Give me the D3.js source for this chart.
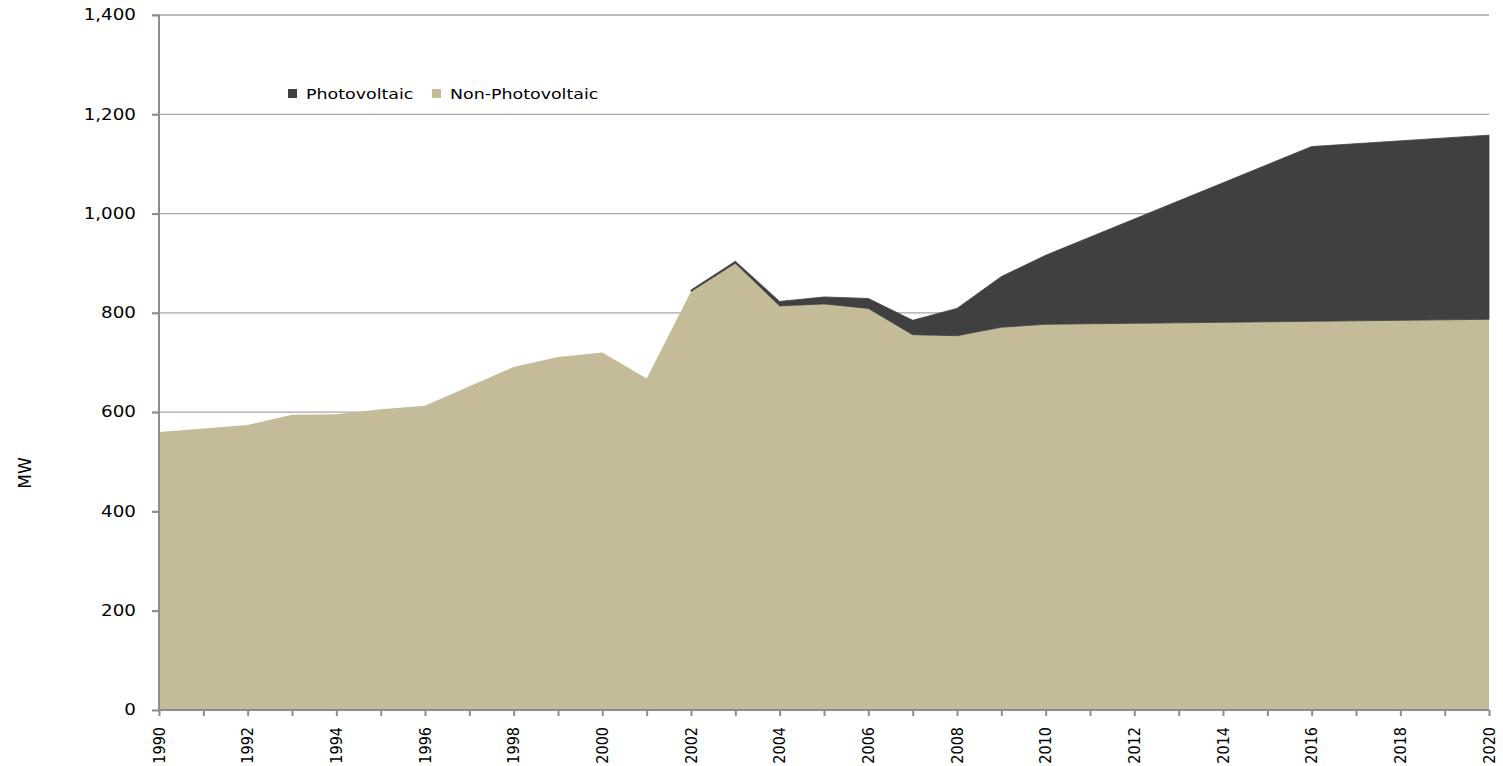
<!DOCTYPE html>
<html>
<meta charset="utf-8">
<style>
body { margin: 0; background: #fff; }
.grid line { stroke: #a6a6a6; stroke-width: 1.3; }
.axis path, .axis line { stroke: #8c8c8c; stroke-width: 2; fill: none; }
.ylab { font-family: "DejaVu Sans", Verdana, sans-serif; font-size: 15px; fill: #000; }
.xlab { font-family: "DejaVu Sans Condensed", "DejaVu Sans", sans-serif; font-stretch: condensed; font-size: 16px; fill: #000; }
.legend text { font-family: "DejaVu Sans", Verdana, sans-serif; font-size: 13.5px; fill: #000; }
</style>
<body>
<svg width="1503" height="766"></svg>
<script src="https://cdn.jsdelivr.net/npm/d3@7"></script>
<script>

var years    = [1990, 1992, 1993, 1994, 1995, 1996, 1998, 1999, 2000, 2001, 2002, 2003, 2004, 2005, 2006, 2007, 2008, 2009, 2010, 2016, 2020];
var nonPV    = [560, 574, 595, 596, 606, 613, 691, 711, 720, 668, 843, 900, 814, 818, 809, 756, 754, 771, 777, 783, 787];
var pv       = [0, 0, 0, 0, 0, 0, 0, 0, 0, 0, 3, 4, 9, 14, 20, 29, 55, 102, 139, 352, 371];
var yTicks   = [0, 200, 400, 600, 800, 1000, 1200, 1400];
var seriesNames = ["Photovoltaic", "Non-Photovoltaic"];
var colors   = {"Photovoltaic": "#404040", "Non-Photovoltaic": "#c4bc98"};

var svg = d3.select("svg");

var x = d3.scaleLinear().domain([1990, 2020]).range([159, 1489]);
var y = d3.scaleLinear().domain([0, 1400]).range([710, 15]);

// gridlines
svg.append("g").attr("class", "grid")
  .selectAll("line")
  .data(yTicks.filter(function(d) { return d > 0; }))
  .enter().append("line")
    .attr("x1", 152).attr("x2", 1489)
    .attr("y1", function(d) { return y(d); })
    .attr("y2", function(d) { return y(d); });

// stacked areas
var rows = years.map(function(yr, i) {
  return {year: yr, "Non-Photovoltaic": nonPV[i], "Photovoltaic": pv[i]};
});
var stack = d3.stack().keys(["Non-Photovoltaic", "Photovoltaic"]);
var layers = stack(rows);

var area = d3.area()
  .x(function(d) { return x(d.data.year); })
  .y0(function(d) { return y(d[0]); })
  .y1(function(d) { return y(d[1]); });

svg.append("g").selectAll("path")
  .data(layers)
  .enter().append("path")
    .attr("fill", function(d) { return colors[d.key]; })
    .attr("stroke", function(d) { return d.key == "Photovoltaic" ? colors[d.key] : "none"; })
    .attr("stroke-width", 0.8)
    .attr("d", function(d) {
      if (d.key == "Photovoltaic") {
        return area.defined(function(p) { return p[1] > p[0]; })(d);
      }
      return area.defined(function() { return true; })(d);
    });

// y axis
var yAxis = svg.append("g").attr("class", "axis")
  .attr("transform", "translate(159,0)")
  .call(d3.axisLeft(y).tickValues(yTicks).tickSize(7).tickFormat(""));
yAxis.select(".domain").attr("d", "M0," + y(1400) + "V" + y(0));

svg.append("g").selectAll("text")
  .data(yTicks)
  .enter().append("text")
    .attr("class", "ylab")
    .attr("transform", function(d) { return "translate(136," + y(d) + ") scale(1.22,1)"; })
    .attr("dy", "0.35em")
    .attr("text-anchor", "end")
    .text(d3.format(","));

// x axis
var xAxis = svg.append("g").attr("class", "axis")
  .attr("transform", "translate(0,710)")
  .call(d3.axisBottom(x).tickValues(d3.range(1990, 2021)).tickSize(6).tickFormat(""));
xAxis.select(".domain").attr("d", "M159,0H1489");

svg.append("g").selectAll("text")
  .data(d3.range(1990, 2021, 2))
  .enter().append("text")
    .attr("class", "xlab")
    .attr("transform", function(d) { return "translate(" + x(d) + ",727) rotate(-90)"; })
    .attr("dy", "0.35em")
    .attr("text-anchor", "end")
    .text(function(d) { return d; });

// axis title
svg.append("text")
  .attr("class", "ylab")
  .style("font-size", "17px")
  .attr("transform", "translate(25,473) rotate(-90)")
  .attr("text-anchor", "middle")
  .attr("dy", "0.35em")
  .text("MW");

// legend
var legend = svg.append("g").attr("class", "legend");
var legX = [288, 432];
seriesNames.forEach(function(name, i) {
  legend.append("rect")
    .attr("x", legX[i]).attr("y", 89)
    .attr("width", 9).attr("height", 9)
    .attr("fill", colors[name]);
  legend.append("text")
    .attr("transform", "translate(" + (legX[i] + 18) + ",94) scale(1.29,1)")
    .attr("dy", "0.35em")
    .text(name);
});
</script>
</body>
</html>
